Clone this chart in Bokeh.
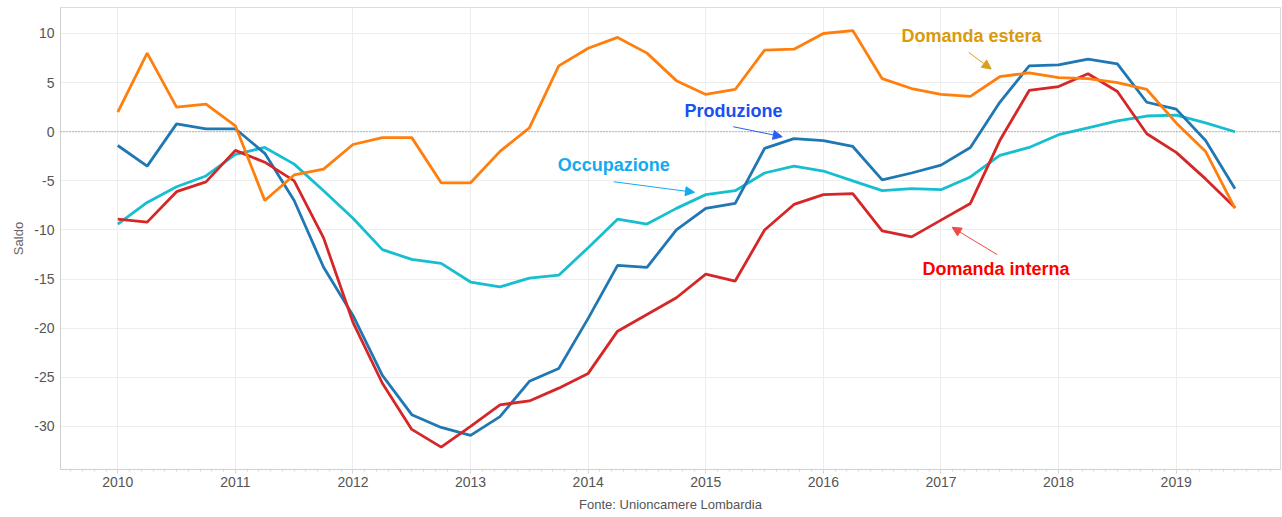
from bokeh.plotting import figure
from bokeh.models import (Range1d, FixedTicker, SingleIntervalTicker, Span, Label, Arrow,
                          NormalHead, Title, ColumnDataSource)
from bokeh.embed import file_html
from bokeh.resources import INLINE

# ---- data (quarterly, 2010 Q1 - 2019 Q3) ----
periods = [2010.0, 2010.25, 2010.5, 2010.75,
           2011.0, 2011.25, 2011.5, 2011.75,
           2012.0, 2012.25, 2012.5, 2012.75,
           2013.0, 2013.25, 2013.5, 2013.75,
           2014.0, 2014.25, 2014.5, 2014.75,
           2015.0, 2015.25, 2015.5, 2015.75,
           2016.0, 2016.25, 2016.5, 2016.75,
           2017.0, 2017.25, 2017.5, 2017.75,
           2018.0, 2018.25, 2018.5, 2018.75,
           2019.0, 2019.25, 2019.5]

produzione = [-1.4, -3.5, 0.8, 0.3, 0.3, -2.2, -7.0, -13.8, -18.7, -24.8, -28.8, -30.1,
              -30.9, -29.0, -25.4, -24.1, -19.0, -13.6, -13.8, -10.0, -7.8, -7.3, -1.7, -0.7,
              -0.9, -1.5, -4.9, -4.2, -3.4, -1.6, 3.0, 6.7, 6.8, 7.4, 6.9, 3.0, 2.3, -0.9, -5.8]

domanda_interna = [-8.9, -9.2, -6.1, -5.1, -1.9, -3.1, -5.0, -10.8, -19.4, -25.6, -30.3, -32.1,
                   -30.0, -27.8, -27.4, -26.1, -24.6, -20.3, -18.6, -16.9, -14.5, -15.2, -10.0, -7.4,
                   -6.4, -6.3, -10.1, -10.7, -9.0, -7.3, -0.9, 4.2, 4.6, 5.9, 4.1, -0.2, -2.1, -4.8, -7.7]

occupazione = [-9.4, -7.2, -5.6, -4.5, -2.3, -1.6, -3.3, -6.0, -8.8, -12.0, -13.0, -13.4,
               -15.3, -15.8, -14.9, -14.6, -11.8, -8.9, -9.4, -7.8, -6.4, -6.0, -4.2, -3.5,
               -4.0, -5.0, -6.0, -5.8, -5.9, -4.6, -2.4, -1.6, -0.3, 0.4, 1.1, 1.6, 1.7, 0.9, 0.0]

domanda_estera = [2.0, 8.0, 2.5, 2.8, 0.6, -7.0, -4.4, -3.8, -1.3, -0.6, -0.6, -5.2,
                  -5.2, -2.0, 0.4, 6.7, 8.5, 9.6, 8.0, 5.2, 3.8, 4.3, 8.3, 8.4,
                  10.0, 10.3, 5.4, 4.4, 3.8, 3.6, 5.6, 6.0, 5.5, 5.4, 5.0, 4.3, 0.9, -2.0, -7.8]

y_ticks = [-30, -25, -20, -15, -10, -5, 0, 5, 10]
y_tick_labels = ["-30", "-25", "-20", "-15", "-10", "-5", "0", "5", "10"]
source_text = "Fonte: Unioncamere Lombardia"

FONT = "Liberation Sans"

p = figure(width=1282, height=517, output_backend="svg", toolbar_location=None,
           x_range=Range1d(2009.513, 2019.887), y_range=Range1d(-34.38, 12.645),
           min_border_left=60, min_border_right=2, min_border_top=7, min_border_bottom=48)

p.background_fill_color = "white"
p.border_fill_color = "white"
p.outline_line_color = "#DCDCDC"

# grids
p.xgrid.grid_line_color = "#EDEDED"
p.ygrid.grid_line_color = "#EDEDED"
p.ygrid.ticker = FixedTicker(ticks=y_ticks)

# axes
p.xaxis.ticker = SingleIntervalTicker(interval=1, num_minor_ticks=10)
p.yaxis.ticker = FixedTicker(ticks=y_ticks)
p.yaxis.major_label_overrides = {t: s for t, s in zip(y_ticks, y_tick_labels)}
for ax in (p.xaxis[0], p.yaxis[0]):
    ax.axis_line_color = "#D0D0D0"
    ax.major_tick_line_color = "#D0D0D0"
    ax.minor_tick_line_color = "#D8D8D8"
    ax.major_label_text_font = FONT
    ax.major_label_text_font_size = "14px"
    ax.major_label_text_color = "#555555"
ax = p.xaxis[0]
ax.major_tick_in = 0
ax.major_tick_out = 4
ax.minor_tick_in = 0
ax.minor_tick_out = 2
ax.major_label_standoff = 3
ay = p.yaxis[0]
ay.major_tick_in = 0
ay.major_tick_out = 0
ay.minor_tick_line_color = None
ay.major_label_standoff = 6
ay.axis_label = "Saldo"
ay.axis_label_text_font = FONT
ay.axis_label_text_font_size = "13px"
ay.axis_label_text_font_style = "normal"
ay.axis_label_text_color = "#666666"
ay.axis_label_standoff = 5

# zero line
p.add_layout(Span(location=0, dimension="width", line_color="#777777",
                  line_width=1, line_dash="1 2"))

src = ColumnDataSource(dict(x=periods, prod=produzione, dint=domanda_interna,
                            occ=occupazione, dest=domanda_estera))
LW = 2.8
p.line("x", "occ", source=src, line_color="#17BECF", line_width=LW)
p.line("x", "prod", source=src, line_color="#1F77B4", line_width=LW)
p.line("x", "dint", source=src, line_color="#D62728", line_width=LW)
p.line("x", "dest", source=src, line_color="#FF7F0E", line_width=LW)

# annotations
def note(text, x, y, color):
    p.add_layout(Label(x=x, y=y, text=text, text_align="center", text_baseline="middle",
                       text_font=FONT, text_font_size="18px", text_font_style="bold",
                       text_color=color))

def arrow(x0, y0, x1, y1, color):
    p.add_layout(Arrow(x_start=x0, y_start=y0, x_end=x1, y_end=y1,
                       line_color=color, line_width=1,
                       end=NormalHead(size=9, fill_color=color, line_color=color)))

note("Domanda estera", 2017.26, 9.77, "#D99A0B")
arrow(2017.236, 8.07, 2017.427, 6.38, "#D9A020")

note("Produzione", 2015.235, 2.14, "#1A50F0")
arrow(2015.233, 0.51, 2015.65, -0.51, "#2A60F0")

note("Occupazione", 2014.218, -3.39, "#12AAF0")
arrow(2014.218, -5.09, 2014.904, -6.17, "#12AAF0")

note("Domanda interna", 2017.468, -13.97, "#FF0000")
arrow(2017.478, -12.51, 2017.095, -9.73, "#F04848")

# source note below
p.add_layout(Title(text=source_text, align="center", text_font=FONT, text_font_size="13px",
                   text_font_style="normal", text_color="#555555", offset=6, standoff=10),
             "below")

open("out.html", "w").write(file_html(p, INLINE))
